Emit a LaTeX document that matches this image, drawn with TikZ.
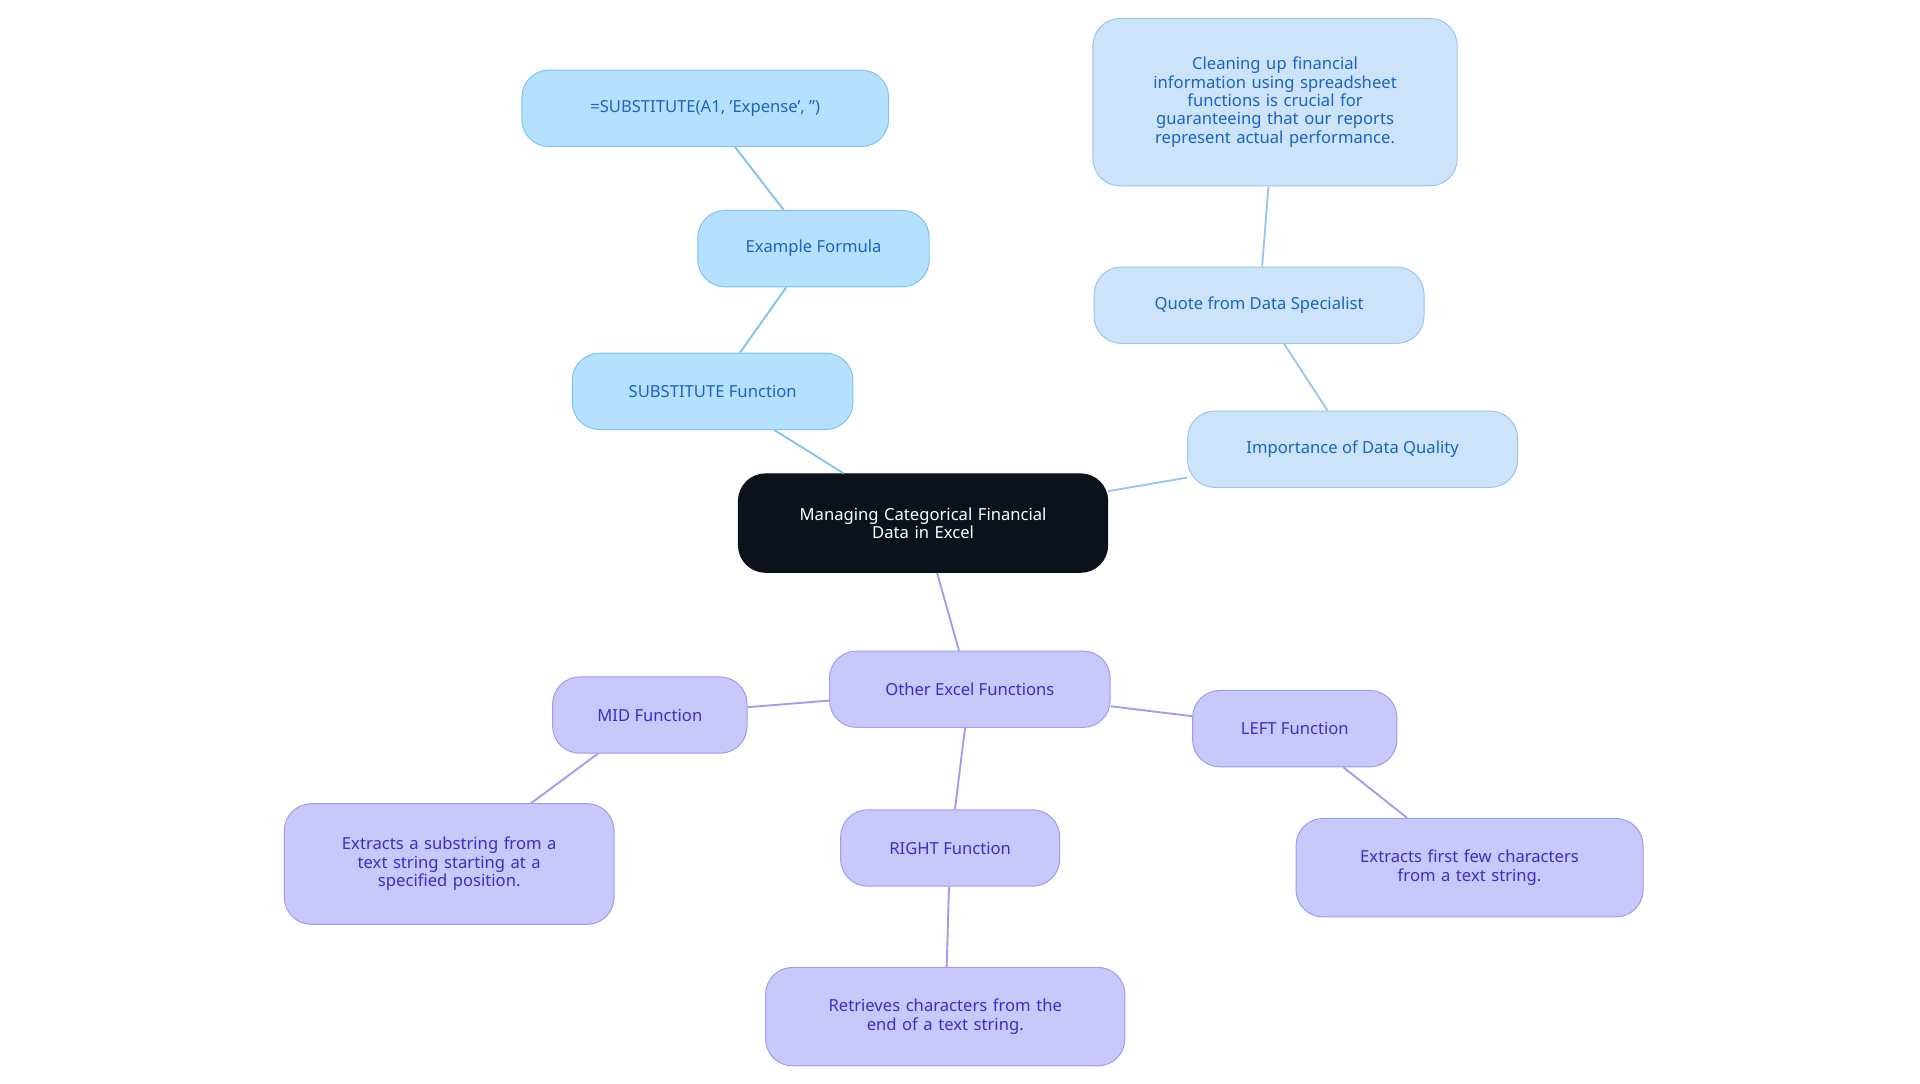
\documentclass[tikz,border=0pt]{standalone}
\usepackage{fontspec}
\setmainfont{Noto Sans}
\begin{document}
\begin{tikzpicture}[x=1pt,y=-1pt,
 base/.style={rounded corners=22pt,draw,line width=0.8pt,align=center,font=\fontsize{13.5}{15}\selectfont,inner sep=0pt},
 bl/.style={base,fill=bfill,draw=bdraw,text=btext},
 qt/.style={base,fill=qfill,draw=qdraw,text=btext},
 pu/.style={base,fill=pfill,draw=pdraw,text=ptext},
 lb/.style={draw=bdraw,line width=1.5pt},
 lq/.style={draw=qdraw,line width=1.5pt},
 lp/.style={draw=pdraw,line width=1.5pt}]
\definecolor{bfill}{HTML}{B5E0FF}\definecolor{bdraw}{HTML}{7CC3F0}\definecolor{btext}{HTML}{1A64C0}
\definecolor{qfill}{HTML}{CCE3FA}\definecolor{qdraw}{HTML}{98C6F0}
\definecolor{pfill}{HTML}{C8C8FA}\definecolor{pdraw}{HTML}{9C9CF0}\definecolor{ptext}{HTML}{3A2EC8}
\definecolor{cfill}{HTML}{0B121B}
\useasboundingbox (0,0) rectangle (1560,880);
\node[base,fill=cfill,draw=cfill,text=white,minimum width=300pt,minimum height=80pt,text width=260pt] (c) at (750,425) {Managing Categorical Financial\\Data in Excel};
\node[bl,minimum width=228pt,minimum height=62pt] (s) at (579,318) {SUBSTITUTE Function};
\node[bl,minimum width=188pt,minimum height=62pt] (e) at (661,202) {Example Formula};
\node[bl,minimum width=298pt,minimum height=62pt] (f) at (573,88) {=SUBSTITUTE(A1, 'Expense', '')};
\node[qt,minimum width=296pt,minimum height=136pt,text width=260pt] (q) at (1036,83) {Cleaning up financial\\information using spreadsheet\\functions is crucial for\\guaranteeing that our reports\\represent actual performance.};
\node[qt,minimum width=268pt,minimum height=62pt] (qd) at (1023,248) {Quote from Data Specialist};
\node[qt,minimum width=268pt,minimum height=62pt] (iq) at (1099,365) {Importance of Data Quality};
\node[pu,minimum width=228pt,minimum height=62pt] (o) at (788,560) {Other Excel Functions};
\node[pu,minimum width=158pt,minimum height=62pt] (m) at (528,581) {MID Function};
\node[pu,minimum width=268pt,minimum height=98pt,text width=240pt] (md) at (365,702) {Extracts a substring from a\\text string starting at a\\specified position.};
\node[pu,minimum width=178pt,minimum height=62pt] (r) at (772,689) {RIGHT Function};
\node[pu,minimum width=292pt,minimum height=80pt,text width=260pt] (rd) at (768,826) {Retrieves characters from the\\end of a text string.};
\node[pu,minimum width=166pt,minimum height=62pt] (l) at (1052,592) {LEFT Function};
\node[pu,minimum width=282pt,minimum height=80pt,text width=260pt] (ld) at (1194,705) {Extracts first few characters\\from a text string.};
\draw[lb] (c) -- (s); \draw[lb] (s) -- (e); \draw[lb] (e) -- (f);
\draw[lq] (c) -- (iq); \draw[lq] (iq) -- (qd); \draw[lq] (qd) -- (q);
\draw[lp] (c) -- (o); \draw[lp] (o) -- (m); \draw[lp] (m) -- (md);
\draw[lp] (o) -- (r); \draw[lp] (r) -- (rd); \draw[lp] (o) -- (l); \draw[lp] (l) -- (ld);
\end{tikzpicture}
\end{document}
